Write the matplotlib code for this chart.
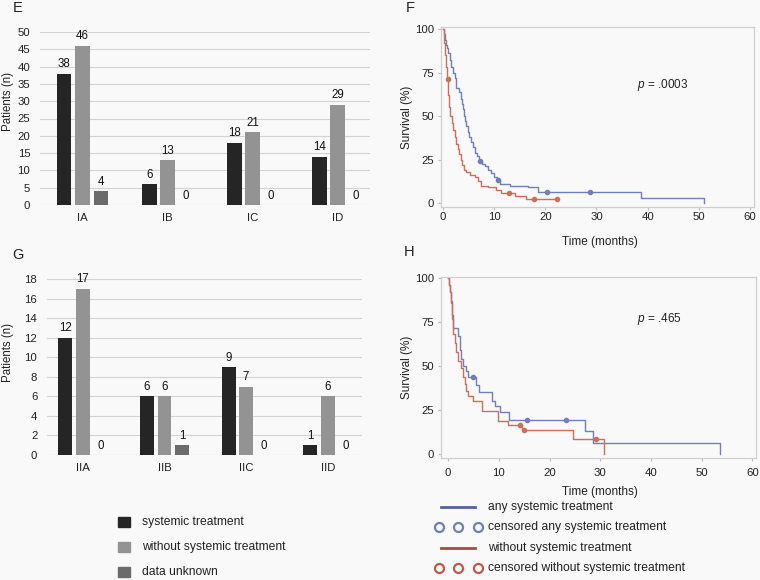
import numpy as np
import matplotlib.pyplot as plt
from matplotlib.patches import Rectangle
from matplotlib.lines import Line2D

plt.rcParams['font.family'] = ['Liberation Sans', 'DejaVu Sans']
plt.rcParams['mathtext.fontset'] = 'custom'
plt.rcParams['mathtext.it'] = 'Liberation Sans:italic'
plt.rcParams['mathtext.rm'] = 'Liberation Sans'

# ---- bar panels (E, G) ----
stages_e = ['IA', 'IB', 'IC', 'ID']
systemic_e = [38, 6, 18, 14]
without_e = [46, 13, 21, 29]
unknown_e = [4, 0, 0, 0]

stages_g = ['IIA', 'IIB', 'IIC', 'IID']
systemic_g = [12, 6, 9, 1]
without_g = [17, 6, 7, 6]
unknown_g = [0, 1, 0, 0]

bar_labels = ['systemic treatment', 'without systemic treatment', 'data unknown']

# ---- Kaplan-Meier panels (F, H): step times (months) and survival (%) ----
f_any_t = [0, 0.2, 0.4, 0.6, 0.8, 1.0, 1.3, 1.6, 1.9, 2.3, 2.6, 3.2, 3.5, 3.7, 3.9, 4.1, 4.3, 4.5,
           4.8, 5.1, 5.4, 5.8, 6.2, 6.6, 7.0, 7.6, 8.2, 8.8, 9.4, 10.0, 10.6, 11.2, 13.0, 16.6,
           18.5, 38.8, 51.0]
f_any_s = [100, 97, 94, 91, 89, 86, 82, 78, 75, 72, 66, 64, 60, 57, 54, 50, 47, 44,
           41, 38, 35, 32, 29, 27, 24, 22.5, 21, 19, 17, 15, 13, 11, 10, 9,
           6.3, 3.1, 0]
f_any_cens_t = [7.3, 10.8, 20.3, 28.8]
f_any_cens_s = [24, 13, 6.3, 6.3]

f_none_t = [0, 0.2, 0.4, 0.6, 0.7, 1.0, 1.2, 1.4, 1.7, 2.0, 2.3, 2.6, 2.9, 3.2, 3.5, 3.8, 4.1,
            4.4, 5.2, 6.2, 6.8, 7.5, 8.8, 10.4, 11.4, 14.0, 16.3, 22.2]
f_none_s = [100, 92, 85, 78, 71.5, 62, 55, 50, 46, 42, 38, 34, 31, 28, 25, 22, 19,
            18, 16, 15, 12.5, 10, 9, 7.5, 5.5, 3.8, 2.3, 2.3]
f_none_cens_t = [0.9, 12.8, 17.7, 22.2]
f_none_cens_s = [71.5, 5.5, 2.3, 2.3]

h_any_t = [0, 0.2, 0.4, 0.6, 0.8, 1.0, 2.0, 2.3, 2.6, 3.0, 3.5, 4.0, 5.5, 6.0, 8.6, 9.3, 10.2,
           12.0, 27.0, 28.6, 53.7]
h_any_s = [100, 96, 92, 87, 79, 71.5, 67, 59, 54, 50, 47, 44, 39, 35, 30, 27, 24,
           19.5, 13, 6.5, 0]
h_any_cens_t = [4.9, 15.6, 23.3]
h_any_cens_s = [44, 19.5, 19.5]

h_none_t = [0, 0.2, 0.4, 0.6, 0.8, 1.0, 1.3, 1.6, 2.0, 2.6, 3.0, 3.3, 3.6, 4.0, 4.9, 6.6, 9.8,
            11.8, 14.6, 24.6, 30.7]
h_none_s = [100, 96, 92, 86, 77, 68, 63, 58, 53, 49, 44, 40, 36, 33, 30, 24.5, 19,
            16.5, 13.5, 8.5, 0]
h_none_cens_t = [14.2, 14.9, 29.1]
h_none_cens_s = [16.5, 13.5, 8.5]

km_labels = ['any systemic treatment', 'censored any systemic treatment',
             'without systemic treatment', 'censored without systemic treatment']

BG = '#f9f9f9'
BAR_COLORS = ['#252525', '#939393', '#6b6b6b']
BLUE = '#6f80ba'
RED = '#cd6f5b'
W, H = 760, 580


def fig_rect(x0, y0, x1, y1):
    # pixel box -> figure fraction [left, bottom, width, height]
    return [x0 / W, 1 - y1 / H, (x1 - x0) / W, (y1 - y0) / H]


def bar_panel(ax, cats, groups, ymax, ystep, xlim, ylab_xy):
    x = np.arange(len(cats))
    step, width = 0.215, 0.17
    for k, (vals, col) in enumerate(zip(groups, BAR_COLORS)):
        pos = x + (k - 1) * step
        ax.bar(pos, vals, width, color=col, zorder=3)
        for p, v in zip(pos, vals):
            ax.annotate(str(v), (p, v), xytext=(0, 2.5), textcoords='offset points',
                        ha='center', va='bottom', fontsize=8.3, color='#111111')
    ax.set_xlim(*xlim)
    ax.set_ylim(0, ymax)
    ax.set_yticks(np.arange(0, ymax + 1, ystep))
    ax.set_xticks(x)
    ax.set_xticklabels(cats)
    ax.grid(axis='y', color='#d3d3d3', lw=0.8, zorder=0)
    for sp in ax.spines.values():
        sp.set_visible(False)
    ax.tick_params(length=0, labelsize=8.2, colors='#222222')
    ax.tick_params(axis='y', pad=7)
    ax.tick_params(axis='x', pad=6)
    ax.set_facecolor(BG)
    ax.set_ylabel('Patients (n)', fontsize=8.3, color='#222222')
    ax.yaxis.set_label_coords(*ylab_xy)


def km_panel(ax, curves, xlim, ylim, ptext, pxy, xpad, ypad):
    for t, s, ct, cs, col in curves:
        ax.plot(t, s, drawstyle='steps-post', color=col, lw=1)
        ax.plot(ct, cs, 'o', ms=3, color=col, mec=col)
    ax.set_xlim(*xlim)
    ax.set_ylim(*ylim)
    ax.set_xticks(range(0, 61, 10))
    ax.set_yticks([0, 25, 50, 75, 100])
    ax.set_facecolor(BG)
    for sp in ax.spines.values():
        sp.set_color('#cfcfcf')
        sp.set_linewidth(0.9)
    ax.tick_params(length=2, color='#bbbbbb', labelsize=8.2, labelcolor='#222222')
    ax.tick_params(axis='x', pad=xpad)
    ax.tick_params(axis='y', pad=ypad)
    ax.set_xlabel('Time (months)', fontsize=8.5, color='#222222')
    ax.set_ylabel('Survival (%)', fontsize=8.5, color='#222222')
    ax.yaxis.set_label_coords(-0.088, 0.5)
    ax.text(pxy[0], pxy[1], ptext, fontsize=8.5, va='center', ha='left', color='#222222')


fig = plt.figure(figsize=(7.6, 5.8), dpi=100, facecolor=BG)

ax_e = fig.add_axes(fig_rect(40, 32, 370, 205))
bar_panel(ax_e, stages_e, [systemic_e, without_e, unknown_e], 50, 5, (-0.5, 3.38),
          (-0.08, 0.6))

ax_g = fig.add_axes(fig_rect(47, 279, 362, 455))
bar_panel(ax_g, stages_g, [systemic_g, without_g, unknown_g], 18, 2, (-0.44, 3.42),
          (-0.105, 0.58))

ax_f = fig.add_axes(fig_rect(441, 27, 754, 207))
km_panel(ax_f, [(f_any_t, f_any_s, f_any_cens_t, f_any_cens_s, BLUE),
                (f_none_t, f_none_s, f_none_cens_t, f_none_cens_s, RED)],
         (-0.4, 60.8), (-2.3, 101.2), '$p$ = .0003', (38, 68), 1.5, 3)
ax_f.xaxis.set_label_coords(0.508, -0.16)

ax_h = fig.add_axes(fig_rect(441, 277, 756, 458))
km_panel(ax_h, [(h_any_t, h_any_s, h_any_cens_t, h_any_cens_s, BLUE),
                (h_none_t, h_none_s, h_none_cens_t, h_none_cens_s, RED)],
         (-1.4, 60.7), (-2.3, 100.6), '$p$ = .465', (37.2, 77), 5, 3)
ax_h.xaxis.set_label_coords(0.505, -0.155)

# panel letters
for letter, (px, py) in zip('EFGH', [(18, 8), (410, 8), (18, 255), (409, 252)]):
    fig.text(px / W, 1 - py / H, letter, fontsize=10.5, ha='center', va='center', color='#222222')

# legend for bar panels
for i, (lab, col) in enumerate(zip(bar_labels, BAR_COLORS)):
    y = 522 + i * 25
    fig.add_artist(Rectangle((118 / W, 1 - (y + 5) / H), 12 / W, 10 / H,
                             transform=fig.transFigure, color=col))
    fig.text(142 / W, 1 - y / H, lab, fontsize=8.7, va='center', ha='left', color='#222222')

# legend for KM panels
leg_colors = ['#5361a0', '#6f80ba', '#a84b40', '#bd5b4b']
for i, (lab, col) in enumerate(zip(km_labels, leg_colors)):
    y = 507 + i * 20.3
    yf = 1 - y / H
    if i % 2 == 0:
        fig.add_artist(Line2D([441 / W, 475 / W], [yf, yf], transform=fig.transFigure,
                              color=col, lw=2))
    else:
        fig.add_artist(Line2D([439 / W, 458 / W, 478 / W], [yf] * 3, transform=fig.transFigure,
                              ls='none', marker='o', ms=6.5, mfc='none', mec=col, mew=1.6))
    fig.text(488 / W, yf, lab, fontsize=8.7, va='center', ha='left', color='#222222')

fig.savefig('out.png', dpi=100, facecolor=BG)
